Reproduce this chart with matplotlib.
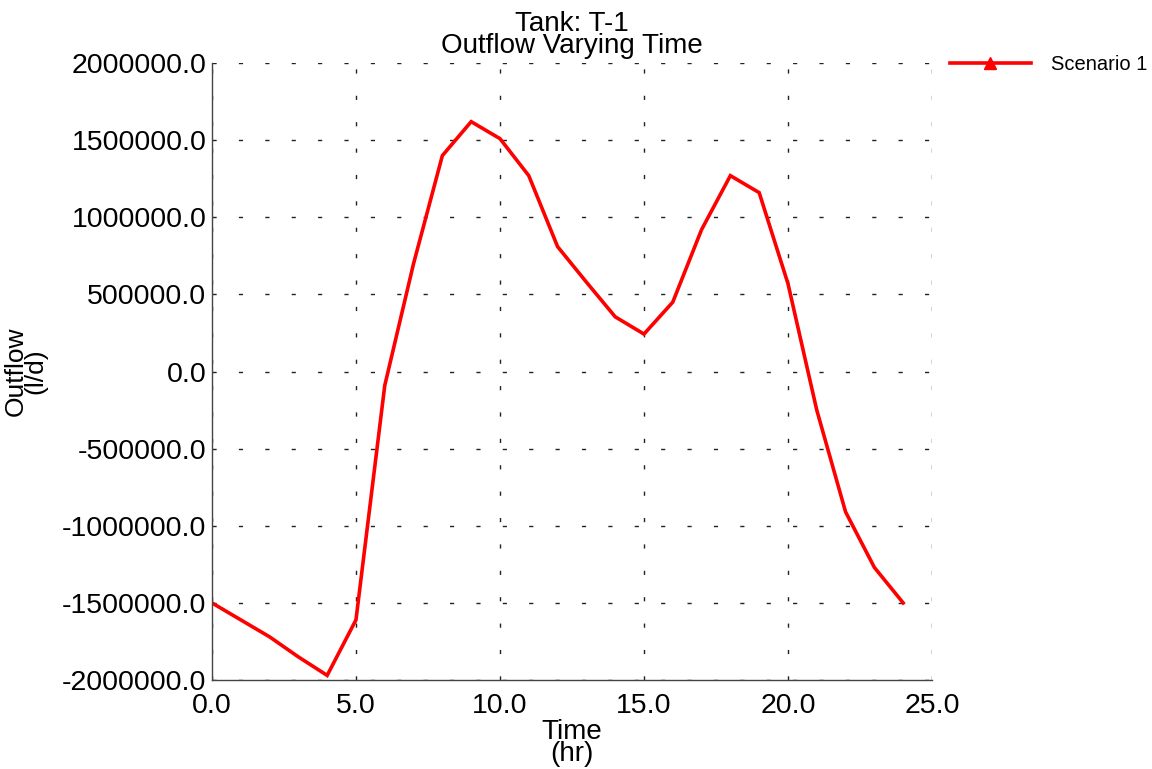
import matplotlib
matplotlib.use('Agg')
import matplotlib.pyplot as plt
from matplotlib.lines import Line2D

# hourly outflow for tank T-1 (l/d)
hours = [0, 1, 2, 3, 4, 5, 6, 7, 8, 9, 10, 11, 12,
         13, 14, 15, 16, 17, 18, 19, 20, 21, 22, 23, 24]
outflow = [-1500000, -1610000, -1720000, -1850000, -1970000, -1610000, -90000,
           700000, 1400000, 1620000, 1510000, 1270000, 810000,
           580000, 355000, 243000, 450000, 920000, 1270000, 1160000,
           570000, -250000, -910000, -1270000, -1500000]

x_ticks = [0, 5, 10, 15, 20, 25]
y_ticks = [-2000000, -1500000, -1000000, -500000, 0, 500000, 1000000, 1500000, 2000000]

plt.rcParams['font.family'] = ['Liberation Sans', 'DejaVu Sans']

fig = plt.figure(figsize=(11.52, 7.69), dpi=100)
ax = fig.add_axes([0.184, 0.1157, 0.625, 0.8023])

ax.plot(hours, outflow, color='#ff0000', linewidth=2.6, solid_joinstyle='miter')

ax.set_xlim(0, 25)
ax.set_ylim(-2000000, 2000000)
ax.set_xticks(x_ticks)
ax.set_yticks(y_ticks)
ax.set_xticklabels(['%.1f' % v for v in x_ticks])
ax.set_yticklabels(['%.1f' % v for v in y_ticks])
ax.tick_params(length=0, labelsize=20.5, colors='black')
ax.tick_params(axis='y', pad=4)
ax.tick_params(axis='x', pad=9)

ax.grid(True, color='#222222', linestyle=(0, (3, 16)), linewidth=1.0)
for side in ['top', 'right']:
    ax.spines[side].set_visible(False)
for side in ['left', 'bottom']:
    ax.spines[side].set_color('#444444')
    ax.spines[side].set_linewidth(1.0)

ax.set_title('Tank: T-1\nOutflow Varying Time', fontsize=20, linespacing=0.82, pad=7)
ax.set_xlabel('Time\n(hr)', fontsize=20, linespacing=0.82, labelpad=0)
ax.set_ylabel('Outflow\n(l/d)', fontsize=19, linespacing=0.78)
ax.yaxis.set_label_coords(-0.228, 0.5)

handle = Line2D([], [], color='#ff0000', linewidth=2.6, marker='^', markersize=9)
ax.legend([handle], ['Scenario 1'], loc='upper left', bbox_to_anchor=(1.0, 1.043),
          frameon=False, handlelength=4.0, handletextpad=1.0, numpoints=1,
          fontsize=14.5)

fig.savefig('out.png', dpi=100)
